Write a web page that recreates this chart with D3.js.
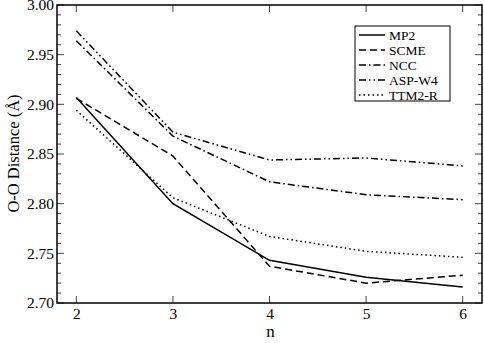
<!DOCTYPE html>
<html>
<head>
<meta charset="utf-8">
<script src="https://cdn.jsdelivr.net/npm/d3@7"></script>
<style>
  body { margin: 0; background: #fff; }
</style>
</head>
<body>
<div id="grafico"></div>
<script>
// Datos
var nValores = [2, 3, 4, 5, 6];
var mp2    = [2.907, 2.800, 2.743, 2.726, 2.716];
var scme   = [2.906, 2.848, 2.737, 2.720, 2.728];
var ncc    = [2.964, 2.868, 2.822, 2.809, 2.804];
var aspW4  = [2.974, 2.872, 2.844, 2.846, 2.838];
var ttm2r  = [2.894, 2.806, 2.767, 2.752, 2.746];
var yTicks = [2.70, 2.75, 2.80, 2.85, 2.90, 2.95, 3.00];

var series = [
    { nombre: "MP2",    valores: mp2,   dash: null },
    { nombre: "SCME",   valores: scme,  dash: "7,4" },
    { nombre: "NCC",    valores: ncc,   dash: "7,3,1.5,3" },
    { nombre: "ASP-W4", valores: aspW4, dash: "7,3,1.5,3,1.5,3" },
    { nombre: "TTM2-R", valores: ttm2r, dash: "1.5,3" }
];

var fuente = "'Liberation Serif'";

var ancho = 484, alto = 343;
var margin = { top: 5, right: 2, bottom: 40, left: 57 };
var width = ancho - margin.left - margin.right,
    height = alto - margin.top - margin.bottom;

var svg = d3.select("#grafico").append("svg")
    .attr("width", ancho)
    .attr("height", alto)
    .append("g")
    .attr("transform", "translate(" + margin.left + "," + margin.top + ")");

var x = d3.scaleLinear().domain([1.8, 6.2]).range([0, width]);
var y = d3.scaleLinear().domain([2.70, 3.00]).range([height, 0]);

// Ticks menores y mayores (hacia dentro, en los cuatro lados)
var minor = d3.range(2.70, 3.0001, 0.01);
var tickColor = "#444";
svg.append("g").selectAll("line.minorL")
    .data(minor).enter().append("line")
    .attr("x1", 0).attr("x2", function (d, i) { return i % 5 === 0 ? 7 : 4; })
    .attr("y1", function (d) { return y(d); }).attr("y2", function (d) { return y(d); })
    .attr("stroke", tickColor);
svg.append("g").selectAll("line.minorR")
    .data(minor).enter().append("line")
    .attr("x1", width).attr("x2", function (d, i) { return width - (i % 5 === 0 ? 7 : 4); })
    .attr("y1", function (d) { return y(d); }).attr("y2", function (d) { return y(d); })
    .attr("stroke", tickColor);
svg.append("g").selectAll("line.xb")
    .data(nValores).enter().append("line")
    .attr("x1", function (d) { return x(d); }).attr("x2", function (d) { return x(d); })
    .attr("y1", height).attr("y2", height - 7)
    .attr("stroke", tickColor);
svg.append("g").selectAll("line.xt")
    .data(nValores).enter().append("line")
    .attr("x1", function (d) { return x(d); }).attr("x2", function (d) { return x(d); })
    .attr("y1", 0).attr("y2", 7)
    .attr("stroke", tickColor);

// Etiquetas de los ejes
svg.append("g")
    .attr("transform", "translate(0," + height + ")")
    .call(d3.axisBottom(x).tickValues(nValores).tickFormat(d3.format("d")).tickSize(0).tickPadding(5))
    .call(function (g) { g.select(".domain").remove(); })
    .selectAll("text")
    .style("font-family", fuente)
    .style("font-size", "15.5px")
    .attr("fill", "#000");

svg.append("g")
    .call(d3.axisLeft(y).tickValues(yTicks).tickFormat(d3.format(".2f")).tickSize(0).tickPadding(3))
    .call(function (g) { g.select(".domain").remove(); })
    .selectAll("text")
    .style("font-family", fuente)
    .style("font-size", "15.5px")
    .attr("fill", "#000");

svg.append("text")
    .attr("x", width / 2 + 1)
    .attr("y", height + 34)
    .attr("text-anchor", "middle")
    .style("font-family", fuente)
    .style("font-size", "17px")
    .text("n");

svg.append("text")
    .attr("transform", "translate(" + (-38) + "," + (height / 2 - 0.5) + ") rotate(-90)")
    .attr("text-anchor", "middle")
    .style("font-family", fuente)
    .style("font-size", "16.5px")
    .text("O-O Distance (Å)");

// Lineas
var linea = d3.line()
    .x(function (d, i) { return x(nValores[i]); })
    .y(function (d) { return y(d); });

series.forEach(function (s) {
    svg.append("path")
        .datum(s.valores)
        .attr("d", linea)
        .attr("fill", "none")
        .attr("stroke", "#000")
        .attr("stroke-width", 1.5)
        .attr("stroke-dasharray", s.dash);
});

// Marco
svg.append("rect")
    .attr("x", 0).attr("y", 0)
    .attr("width", width).attr("height", height)
    .attr("fill", "none")
    .attr("stroke", "#000")
    .attr("stroke-width", 1.5);

// Leyenda
var leg = svg.append("g").attr("transform", "translate(" + (355 - margin.left) + "," + (26 - margin.top) + ")");
leg.append("rect")
    .attr("width", 95).attr("height", 75)
    .attr("fill", "#fff").attr("stroke", "#000").attr("stroke-width", 1);
series.forEach(function (s, i) {
    var yy = 9 + i * 15;
    leg.append("line")
        .attr("x1", 4).attr("x2", 30)
        .attr("y1", yy).attr("y2", yy)
        .attr("stroke", "#000").attr("stroke-width", 1.5)
        .attr("stroke-dasharray", s.dash);
    leg.append("text")
        .attr("x", 34).attr("y", yy + 4.5)
        .style("font-family", fuente)
        .style("font-size", "13.5px")
        .text(s.nombre);
});
</script>
</body>
</html>
